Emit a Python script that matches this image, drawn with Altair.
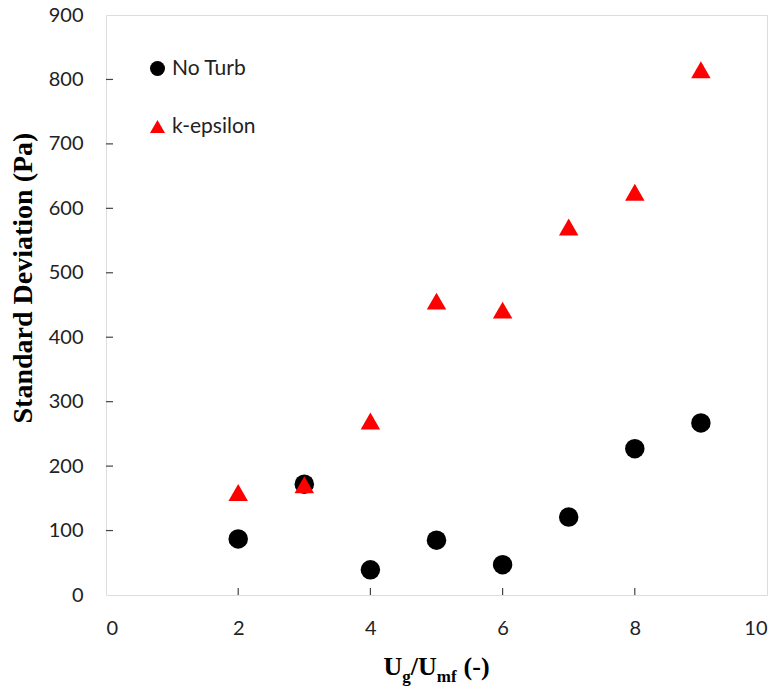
import altair as alt
import pandas as pd

x_vals = [2, 3, 4, 5, 6, 7, 8, 9]
no_turb = [87, 172, 39, 85, 47, 121, 227, 267]
k_eps = [159, 171, 270, 456, 442, 571, 625, 815]
series_names = ["No Turb", "k-epsilon"]
y_ticks = [0, 100, 200, 300, 400, 500, 600, 700, 800, 900]
x_ticks = [0, 2, 4, 6, 8, 10]

rows = []
for xv, yv in zip(x_vals, no_turb):
    rows.append({"x": xv, "y": yv, "s": series_names[0]})
for xv, yv in zip(x_vals, k_eps):
    rows.append({"x": xv, "y": yv, "s": series_names[1]})
df = pd.DataFrame(rows)

W, H = 661, 580
xs = alt.Scale(domain=[0, 10], nice=False, zero=False)
ys = alt.Scale(domain=[0, 900], nice=False)

points = alt.Chart(df).mark_point(filled=True, opacity=1, size=380).encode(
    x=alt.X("x:Q", scale=xs,
            axis=alt.Axis(values=x_ticks, format="d", title=None, domain=False, ticks=False, grid=False,
                          labelFont="Lato", labelFontSize=20, labelColor="#222",
                          labelPadding=33, labelBaseline="middle")),
    y=alt.Y("y:Q", scale=ys,
            axis=alt.Axis(values=y_ticks, format="d", title=None, domain=False, ticks=False, grid=False,
                          labelFont="Lato", labelFontSize=20, labelColor="#222",
                          labelPadding=23)),
    color=alt.Color("s:N", scale=alt.Scale(domain=series_names, range=["#000000", "#ff0000"]),
                    legend=alt.Legend(title=None, orient="none", legendX=41, legendY=43,
                                      symbolSize=225, labelFont="Lato", labelFontSize=21,
                                      labelColor="#222", rowPadding=36, labelOffset=4,
                                      symbolStrokeWidth=0, padding=0)),
    shape=alt.Shape("s:N", scale=alt.Scale(domain=series_names, range=["circle", "triangle-up"]),
                    legend=None),
    order=alt.Order("s_order:Q"),
).transform_calculate(s_order="datum.s == 'No Turb' ? 0 : 1")

ytick_df = pd.DataFrame({"v": y_ticks[1:-1]})
yticks = alt.Chart(ytick_df).mark_rule(color="#444", strokeWidth=1.2).encode(
    y=alt.Y("v:Q", scale=ys), x=alt.value(0), x2=alt.value(7))
xtick_df = pd.DataFrame({"v": x_ticks[1:-1]})
xticks = alt.Chart(xtick_df).mark_rule(color="#444", strokeWidth=1.2).encode(
    x=alt.X("v:Q", scale=xs), y=alt.value(H), y2=alt.value(H - 7))

# Y title
ytitle = alt.Chart(pd.DataFrame({"t": ["Standard Deviation (Pa)"]})).mark_text(
    font="Liberation Serif", fontWeight="bold", fontSize=28, angle=270,
    align="center", baseline="middle", color="#000").encode(
    text="t:N", x=alt.value(-82), y=alt.value(263))

# X title pieces with subscripts
big, small = 26, 17
wid = {"U": 0.722, "g": 0.5, "/": 0.278, "m": 0.833, "f": 0.333, " ": 0.25, "(": 0.333, "-": 0.333, ")": 0.333}
pieces = [("U", big, 0, 0), ("g", small, 7, 0), ("/U", big, 0, 0), ("mf", small, 7, 0), ("(-)", big, 0, 7)]
total = sum(sum(wid[c] for c in p) * fs + gap for p, fs, _, gap in pieces)
start = W / 2 - total / 2
base = 660
layers = []
cx = start
for txt, fs, dy, gap in pieces:
    cx += gap
    layers.append(alt.Chart(pd.DataFrame({"t": [txt]})).mark_text(
        font="Liberation Serif", fontWeight="bold", fontSize=fs, align="left",
        baseline="alphabetic", color="#000").encode(
        text="t:N", x=alt.value(cx), y=alt.value(base + dy)))
    cx += sum(wid[c] for c in txt) * fs

chart = alt.layer(points, yticks, xticks, ytitle, *layers).properties(
    width=W, height=H,
    autosize=alt.AutoSizeParams(type="none"),
    padding={"left": 106, "top": 15, "right": 14, "bottom": 91},
).configure_view(stroke="#444", strokeWidth=1.5).configure(background="white")

chart.save("out.html", embed_options={"renderer": "svg", "actions": False})
